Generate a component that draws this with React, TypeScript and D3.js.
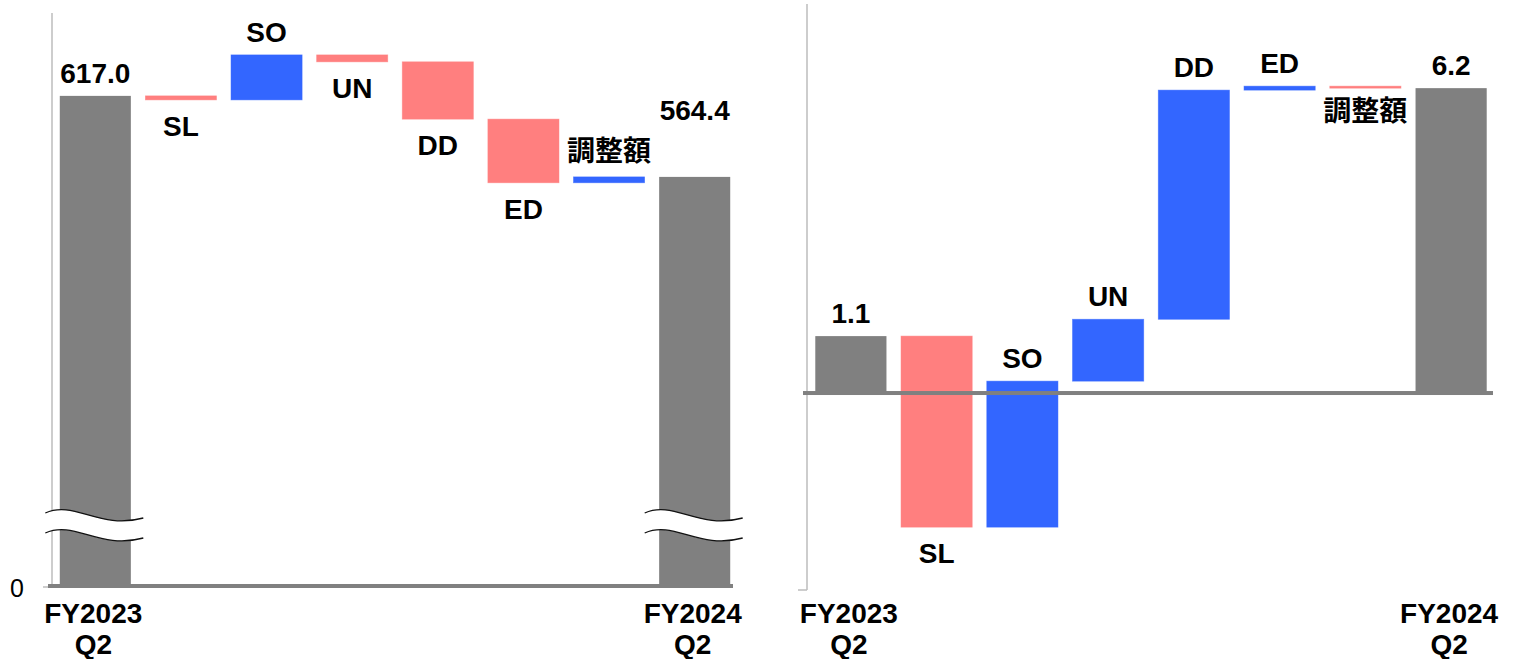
import React from "react";
import * as d3 from "d3";

// ---------- DATA ----------
const categories = ["start", "SL", "SO", "UN", "DD", "ED", "調整額", "end"];
const xLabelsTop = ["FY2023", "FY2024"];
const xLabelsBottom = ["Q2", "Q2"];

// Left chart (broken axis)
const leftStart = 617.0;
const leftDeltas = [-2.6, 29.2, -4.5, -37.2, -41.3, 3.8];
const leftEnd = 564.4;
const leftStartLabel = "617.0";
const leftEndLabel = "564.4";

// Right chart
const rightStart = 1.15;
const rightDeltas = [-3.86, 2.95, 1.25, 4.63, 0.08, -0.04];
const rightEnd = 6.16;
const rightStartLabel = "1.1";
const rightEndLabel = "6.2";

const deltaLabels = ["SL", "SO", "UN", "DD", "ED", "調整額"];
const zeroTickLabel = "0";

// ---------- STYLE ----------
const GREY = "#808080";
const PINK = "#FF7F7F";
const BLUE = "#3366FF";
const AXIS = "#BDBDBD";
const FONT = "'Liberation Sans', Arial, 'Noto Sans CJK JP', sans-serif";
const CJK = "'Noto Sans CJK JP', 'Liberation Sans', sans-serif";

type Bar = { key: string; y0: number; y1: number; color: string; label: string; above: boolean; total: boolean };

function buildBars(start: number, deltas: number[], end: number, sLabel: string, eLabel: string): Bar[] {
  const bars: Bar[] = [];
  bars.push({ key: categories[0], y0: 0, y1: start, color: GREY, label: sLabel, above: true, total: true });
  let cur = start;
  deltas.forEach((d, i) => {
    const next = cur + d;
    bars.push({
      key: categories[i + 1],
      y0: cur,
      y1: next,
      color: d >= 0 ? BLUE : PINK,
      label: deltaLabels[i],
      above: d >= 0,
      total: false,
    });
    cur = next;
  });
  bars.push({ key: categories[7], y0: 0, y1: end, color: GREY, label: eLabel, above: true, total: true });
  return bars;
}

function Chart({
  bars,
  x0,
  x1,
  yScale,
  baseY,
  axisTop,
  axisBottom,
  axisX,
  broken,
  endLift,
  zeroLine,
}: {
  bars: Bar[];
  x0: number;
  x1: number;
  yScale: d3.ScaleLinear<number, number>;
  baseY: number;
  axisTop: number;
  axisBottom: number;
  axisX: number;
  broken: boolean;
  endLift: number;
  zeroLine: [number, number];
}) {
  const xScale = d3.scaleBand<string>().domain(categories).range([x0, x1]).paddingInner(0.17).paddingOuter(0.085);
  const bw = xScale.bandwidth();

  const breakPath = (bx: number, w: number, y: number) => {
    const off = 20;
    const seg = (yy: number) => `M${bx},${yy} C${bx + w * 0.3},${yy - 13} ${bx + w * 0.55},${yy + 17} ${bx + w},${yy + 5}`;
    const fill = `${seg(y)} L${bx + w},${y + off + 5} C${bx + w * 0.55},${y + off + 17} ${bx + w * 0.3},${y + off - 13} ${bx},${y + off} Z`;
    return { top: seg(y), bottom: seg(y + off), fill };
  };

  return (
    <g>
      <line x1={axisX} x2={axisX} y1={axisTop} y2={axisBottom} stroke={AXIS} strokeWidth={1.5} />
      <line x1={axisX - 9} x2={axisX} y1={axisBottom} y2={axisBottom} stroke={AXIS} strokeWidth={1.5} />
      {bars.map((b, i) => {
        const x = xScale(b.key)!;
        const yTop = b.total ? yScale(b.y1) : yScale(Math.max(b.y0, b.y1));
        const yBot = b.total ? baseY : yScale(Math.min(b.y0, b.y1));
        return (
          <rect
            key={i}
            x={x}
            y={yTop}
            width={bw}
            height={Math.max(1, yBot - yTop)}
            fill={b.color}
            stroke={b.total ? "none" : b.color}
            strokeOpacity={0.6}
            strokeWidth={0.8}
          />
        );
      })}
      <rect x={zeroLine[0]} y={baseY - 2} width={zeroLine[1] - zeroLine[0]} height={4} fill={GREY} />
      {broken &&
        [0, 7].map((i) => {
          const cx = xScale(categories[i])! + bw / 2;
          const p = breakPath(cx - 50, 98, 513);
          return (
            <g key={"br" + i}>
              <path d={p.fill} fill="#fff" />
              <path d={p.top} fill="none" stroke="#111" strokeWidth={1.3} />
              <path d={p.bottom} fill="none" stroke="#111" strokeWidth={1.3} />
            </g>
          );
        })}
      {bars.map((b, i) => {
        const cx = xScale(b.key)! + bw / 2;
        const yTop = b.total ? yScale(b.y1) : yScale(Math.max(b.y0, b.y1));
        const yBot = b.total ? baseY : yScale(Math.min(b.y0, b.y1));
        let y = b.above ? yTop - 13 : yBot + 36;
        if (i === 7) y -= endLift;
        const isCJK = /[^\x00-\x7F]/.test(b.label);
        return (
          <text
            key={"l" + i}
            x={cx}
            y={isCJK ? y - 3 : y}
            textAnchor="middle"
            fontFamily={isCJK ? CJK : FONT}
            fontWeight="bold"
            fontSize={28}
            fill="#000"
          >
            {b.label}
          </text>
        );
      })}
      {[0, 7].map((i, k) => {
        const cx = xScale(categories[i])! + bw / 2;
        return (
          <g key={"x" + i}>
            <text x={cx - 2} y={623} textAnchor="middle" fontFamily={FONT} fontWeight="bold" fontSize={28}>
              {xLabelsTop[k]}
            </text>
            <text x={cx - 2} y={654} textAnchor="middle" fontFamily={FONT} fontWeight="bold" fontSize={28}>
              {xLabelsBottom[k]}
            </text>
          </g>
        );
      })}
    </g>
  );
}

export default function App() {
  const leftBars = buildBars(leftStart, leftDeltas, leftEnd, leftStartLabel, leftEndLabel);
  const rightBars = buildBars(rightStart, rightDeltas, rightEnd, rightStartLabel, rightEndLabel);

  const yLeft = d3.scaleLinear().domain([298.8, 676]).range([586, 5]);
  const yRight = d3.scaleLinear().domain([-3.98, 7.84]).range([590, 5]);

  return (
    <svg width={1516} height={659} style={{ position: "absolute", left: 0, top: 0, background: "#fff" }}>
      <Chart
        bars={leftBars}
        x0={52.5}
        x1={737.5}
        yScale={yLeft}
        baseY={586}
        axisTop={13}
        axisBottom={587}
        axisX={52}
        broken={true}
        endLift={44}
        zeroLine={[48, 733]}
      />
      <text x={17} y={597} textAnchor="middle" fontFamily={FONT} fontSize={25}>
        {zeroTickLabel}
      </text>
      <Chart
        bars={rightBars}
        x0={808}
        x1={1494}
        yScale={yRight}
        baseY={yRight(0)}
        axisTop={4}
        axisBottom={590}
        axisX={807}
        broken={false}
        endLift={0}
        zeroLine={[803, 1493]}
      />
    </svg>
  );
}
